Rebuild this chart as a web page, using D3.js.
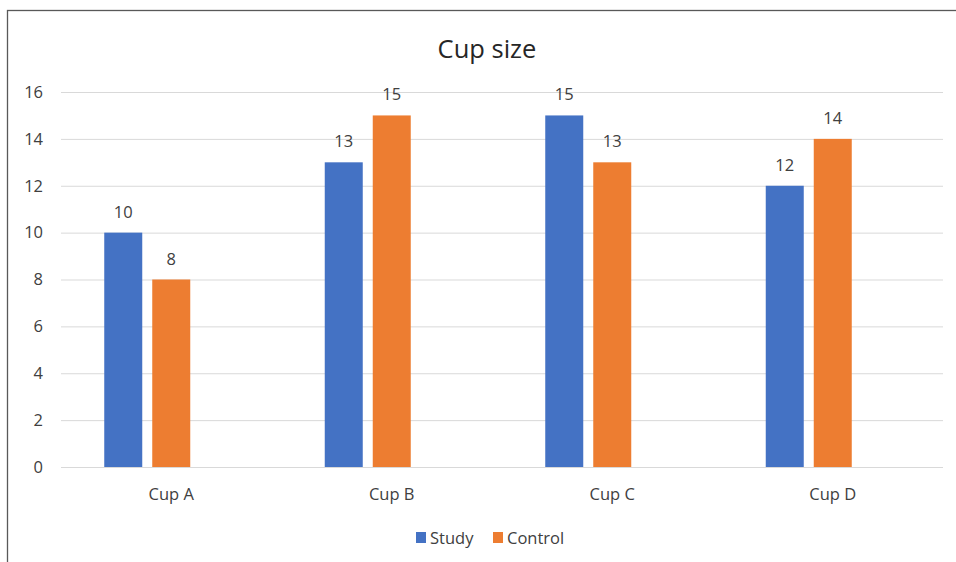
<!DOCTYPE html>
<html>
<head>
<meta charset="utf-8">
<script src="https://cdn.jsdelivr.net/npm/d3@7"></script>
<style>
  html, body { margin: 0; padding: 0; background: #fff; }
  svg { display: block; }
  text { font-family: "Open Sans", Lato, sans-serif; }
</style>
</head>
<body>
<svg id="chart" width="956" height="562"></svg>
<script>
// Chart data
const categories = ["Cup A", "Cup B", "Cup C", "Cup D"];
const seriesNames = ["Study", "Control"];
const studyValues = [10, 13, 15, 12];
const controlValues = [8, 15, 13, 14];
const yTicks = [0, 2, 4, 6, 8, 10, 12, 14, 16];
const colors = ["#4472C4", "#ED7D31"];

const rows = categories.map((c, i) => ({ category: c, values: [studyValues[i], controlValues[i]] }));

const FONT = "'Open Sans', Lato, sans-serif";
const LABEL_SIZE = 16.5;
const svg = d3.select("#chart");

// Outer frame (right and bottom edges run off the canvas)
svg.append("rect")
  .attr("x", 7.5).attr("y", 10.5)
  .attr("width", 1000).attr("height", 600)
  .attr("fill", "#fff").attr("stroke", "#595959").attr("stroke-width", 1.3);

const plot = { left: 61, right: 943, top: 92, bottom: 467 };

const x0 = d3.scaleBand().domain(categories).range([plot.left, plot.right]).padding(0);
// Three slots per group; the third one is left empty
const slotPad = 43.25;
const x1 = d3.scaleBand()
  .domain([...seriesNames, "_"])
  .range([slotPad, x0.bandwidth() - slotPad])
  .paddingInner(0.2083);
const y = d3.scaleLinear().domain([0, 16]).range([plot.bottom, plot.top]);

// Gridlines
svg.append("g")
  .selectAll("line").data(yTicks).join("line")
  .attr("x1", plot.left).attr("x2", plot.right)
  .attr("y1", d => y(d) + 0.5).attr("y2", d => y(d) + 0.5)
  .attr("stroke", "#D9D9D9").attr("stroke-width", 1);

// Y axis labels
const yAxis = d3.axisLeft(y).tickValues(yTicks).tickSize(0).tickPadding(0);
const gy = svg.append("g").attr("transform", `translate(43,0)`).call(yAxis);
gy.select(".domain").remove();
gy.selectAll("text")
  .attr("font-size", LABEL_SIZE).attr("fill", "#404040")
  .attr("font-family", FONT);

// X axis labels
const xAxis = d3.axisBottom(x0).tickSize(0).tickPadding(0);
const gx = svg.append("g").attr("transform", `translate(0,500)`).call(xAxis);
gx.select(".domain").remove();
gx.selectAll("text")
  .attr("y", 0).attr("dy", 0)
  .attr("font-size", LABEL_SIZE).attr("fill", "#404040")
  .attr("font-family", FONT);

// Bars
const groups = svg.append("g").selectAll("g").data(rows).join("g")
  .attr("transform", d => `translate(${x0(d.category)},0)`);

groups.selectAll("rect")
  .data(d => d.values.map((v, i) => ({ name: seriesNames[i], value: v, idx: i })))
  .join("rect")
  .attr("x", d => x1(d.name))
  .attr("width", x1.bandwidth())
  .attr("y", d => y(d.value))
  .attr("height", d => y(0) - y(d.value))
  .attr("fill", d => colors[d.idx]);

// Value labels
groups.selectAll("text.val")
  .data(d => d.values.map((v, i) => ({ name: seriesNames[i], value: v })))
  .join("text")
  .attr("class", "val")
  .attr("x", d => x1(d.name) + x1.bandwidth() / 2)
  .attr("y", d => y(d.value) - 15)
  .attr("text-anchor", "middle")
  .attr("font-size", LABEL_SIZE).attr("fill", "#404040")
  .text(d => d.value);

// Title
svg.append("text")
  .attr("x", 487).attr("y", 58)
  .attr("text-anchor", "middle")
  .attr("font-size", 25.5).attr("fill", "#262626")
  .text("Cup size");

// Legend
const legend = svg.append("g");
const legendX = [416, 493];
seriesNames.forEach((name, i) => {
  legend.append("rect")
    .attr("x", legendX[i]).attr("y", 532)
    .attr("width", 10).attr("height", 11)
    .attr("fill", colors[i]);
  legend.append("text")
    .attr("x", legendX[i] + 14).attr("y", 544)
    .attr("font-size", LABEL_SIZE).attr("fill", "#404040")
    .text(name);
});
</script>
</body>
</html>
